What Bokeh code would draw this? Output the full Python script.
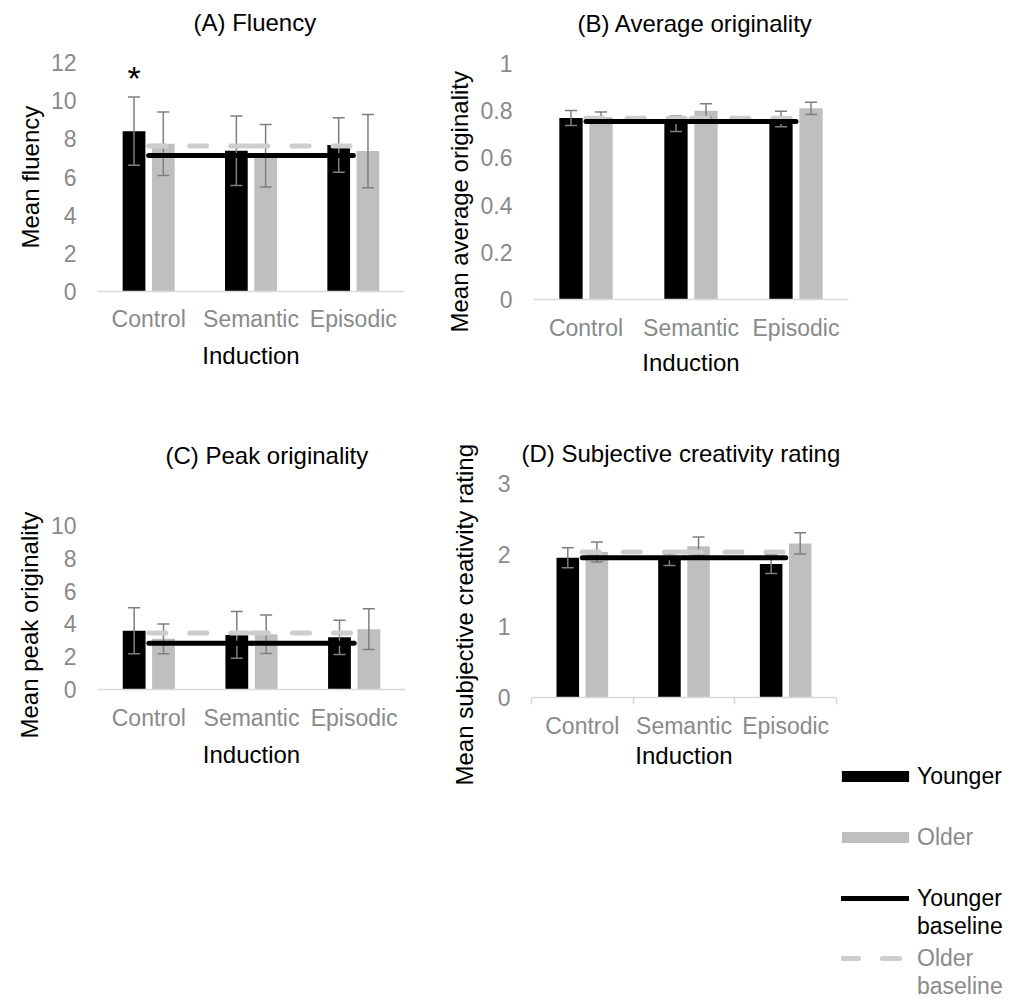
import numpy as np
from bokeh.plotting import figure
from bokeh.models import Range1d, FixedTicker, Title, Legend, LegendItem, NumeralTickFormatter
from bokeh.layouts import row, column
from bokeh.embed import file_html
from bokeh.resources import INLINE
from bokeh.core.properties import value

# ---------------- data ----------------
categories = ["Control", "Semantic", "Episodic"]

fluency_younger = [8.40, 7.37, 7.68]
fluency_younger_err = [1.79, 1.82, 1.43]
fluency_older = [7.74, 7.11, 7.36]
fluency_older_err = [1.66, 1.64, 1.92]
fluency_base_younger = 7.13
fluency_base_older = 7.62
fluency_sig = ["*", "", ""]
fluency_ticks = [0, 2, 4, 6, 8, 10, 12]

avgorig_younger = [0.769, 0.745, 0.765]
avgorig_younger_err = [0.032, 0.033, 0.033]
avgorig_older = [0.772, 0.800, 0.810]
avgorig_older_err = [0.022, 0.029, 0.026]
avgorig_base_younger = 0.754
avgorig_base_older = 0.768
avgorig_ticks = [0, 0.2, 0.4, 0.6, 0.8, 1.0]

peak_younger = [3.58, 3.33, 3.18]
peak_younger_err = [1.40, 1.43, 1.04]
peak_older = [3.09, 3.37, 3.68]
peak_older_err = [0.91, 1.18, 1.24]
peak_base_younger = 2.82
peak_base_older = 3.45
peak_ticks = [0, 2, 4, 6, 8, 10]

subj_younger = [1.96, 1.93, 1.87]
subj_younger_err = [0.14, 0.08, 0.13]
subj_older = [2.04, 2.12, 2.16]
subj_older_err = [0.14, 0.13, 0.15]
subj_base_younger = 1.96
subj_base_older = 2.04
subj_ticks = [0, 1, 2, 3]

legend_labels = ["Younger", "Older", "Younger", "baseline", "Older", "baseline"]

# ---------------- styles ----------------
FONT = "Liberation Sans"
FS = "23px"
FS_T = "24px"
TICK_GRAY = "#8a8a8a"
BAR_GRAY = "#bfbfbf"
DASH_GRAY = "#cdcdcd"
ERR_GRAY = "#7f7f7f"
AXIS_GRAY = "#d9d9d9"
BAR_W = 0.222
DODGE = 0.143


def draw_series(p, xc, younger, yerr, older, oerr, base_y, base_o):
    n = len(xc)
    xy = xc - DODGE
    xo = xc + DODGE
    younger = np.array(younger)
    older = np.array(older)
    yerr = np.array(yerr)
    oerr = np.array(oerr)
    p.vbar(x=xy, top=younger, width=BAR_W, fill_color="black", line_color=None)
    p.vbar(x=xo, top=older, width=BAR_W, fill_color=BAR_GRAY, line_color=None)
    ex = np.concatenate([xy, xo])
    lo = np.concatenate([younger - yerr, older - oerr])
    hi = np.concatenate([younger + yerr, older + oerr])
    p.segment(x0=ex, x1=ex, y0=lo, y1=hi, line_color=ERR_GRAY, line_width=1.5)
    p.scatter(x=np.concatenate([ex, ex]), y=np.concatenate([lo, hi]), marker="dash",
              size=12, line_color=ERR_GRAY, line_width=1.5)
    p.segment(x0=xc[:-1], x1=xc[1:], y0=[base_o] * (n - 1), y1=[base_o] * (n - 1),
              line_color=DASH_GRAY, line_width=5, line_dash="17 24", line_cap="round")
    p.segment(x0=xc[:-1], x1=xc[1:], y0=[base_y] * (n - 1), y1=[base_y] * (n - 1),
              line_color="black", line_width=5, line_cap="round")
    return xy


def make_panel(title, ylabel, yticks, younger, yerr, older, oerr, base_y, base_o,
               w, h, left, right, top, bottom,
               t_off, t_stand, yl_off, yl_stand, xl_stand, xal_stand,
               fmt=None, cat_ticks=False, sig=None):
    n = len(categories)
    xc = np.arange(n) + 0.5
    p = figure(width=w, height=h, x_range=Range1d(0, n), y_range=Range1d(yticks[0], yticks[-1]),
               output_backend="svg", toolbar_location=None,
               min_border_left=left, min_border_right=right,
               min_border_top=top, min_border_bottom=bottom)
    p.frame_align = False
    p.title = Title(text=title, align="left", offset=t_off, standoff=t_stand,
                    text_font=FONT, text_font_size=FS_T, text_font_style="normal",
                    text_color="black")
    p.outline_line_color = None
    p.xgrid.visible = False
    p.ygrid.visible = False

    xa = p.xaxis[0]
    xa.ticker = FixedTicker(ticks=list(xc), minor_ticks=list(range(n + 1)) if cat_ticks else [])
    xa.major_label_overrides = {float(x): c for x, c in zip(xc, categories)}
    xa.axis_line_color = AXIS_GRAY
    xa.axis_line_width = 1.5
    xa.major_tick_line_color = None
    xa.major_tick_out = 0
    xa.major_tick_in = 0
    xa.minor_tick_line_color = AXIS_GRAY if cat_ticks else None
    xa.minor_tick_out = 7
    xa.minor_tick_in = 0
    xa.minor_tick_line_width = 1.5
    xa.major_label_text_font = FONT
    xa.major_label_text_font_size = FS
    xa.major_label_text_color = TICK_GRAY
    xa.major_label_standoff = xl_stand
    xa.axis_label = "Induction"
    xa.axis_label_text_font = FONT
    xa.axis_label_text_font_size = FS_T
    xa.axis_label_text_font_style = "normal"
    xa.axis_label_text_color = "black"
    xa.axis_label_standoff = xal_stand

    ya = p.yaxis[0]
    ya.ticker = FixedTicker(ticks=yticks)
    if fmt is not None:
        ya.formatter = fmt
    ya.axis_line_color = None
    ya.major_tick_line_color = None
    ya.major_tick_out = 0
    ya.major_tick_in = 0
    ya.minor_tick_line_color = None
    ya.major_label_text_font = FONT
    ya.major_label_text_font_size = FS
    ya.major_label_text_color = TICK_GRAY
    ya.major_label_standoff = 21

    p.add_layout(Title(text=ylabel, align="left", offset=yl_off, standoff=yl_stand,
                       text_font=FONT, text_font_size=FS_T, text_font_style="normal",
                       text_color="black"), "left")

    xy = draw_series(p, xc, younger, yerr, older, oerr, base_y, base_o)

    if sig is not None:
        top_err = np.array(younger) + np.array(yerr)
        p.text(x=xy, y=top_err + 1.0, text=sig, text_font=value(FONT),
               text_font_size="34px", text_align="center", text_baseline="alphabetic",
               text_color="black")
    return p


pA = make_panel("(A) Fluency\n", "Mean fluency", fluency_ticks,
                fluency_younger, fluency_younger_err, fluency_older, fluency_older_err,
                fluency_base_younger, fluency_base_older,
                430, 395, 97, 26, 62, 104,
                96, 0, 43, 8, 14, 7, sig=fluency_sig)

pB = make_panel("(B) Average originality\n", "Mean average originality", avgorig_ticks,
                avgorig_younger, avgorig_younger_err, avgorig_older, avgorig_older_err,
                avgorig_base_younger, avgorig_base_older,
                590, 395, 103, 172, 63, 96,
                44, 0, -33, 10, 15, 5, fmt=NumeralTickFormatter(format="0.[0]"))

pC = make_panel("(C) Peak originality\n", "Mean peak originality", peak_ticks,
                peak_younger, peak_younger_err, peak_older, peak_older_err,
                peak_base_younger, peak_base_older,
                430, 605, 97, 25, 130, 311,
                68, 60, -49, 10, 15, 7)

pD = make_panel("(D) Subjective creativity rating", "Mean subjective creativity rating", subj_ticks,
                subj_younger, subj_younger_err, subj_older, subj_older_err,
                subj_base_younger, subj_base_older,
                410, 605, 101, 4, 88, 303,
                -10, 34, -88, 34, 8, 0, cat_ticks=True)

# ---------------- legend panel ----------------
LW, LH = 180, 605
pL = figure(width=LW, height=LH, x_range=Range1d(0, 1), y_range=Range1d(0, 1),
            output_backend="svg", toolbar_location=None,
            min_border_left=0, min_border_right=0, min_border_top=0, min_border_bottom=0,
            x_axis_location=None, y_axis_location=None)
pL.frame_align = False
pL.outline_line_color = None
pL.xgrid.visible = False
pL.ygrid.visible = False
d_y = pL.vbar(x=[np.nan], top=[np.nan], width=BAR_W, fill_color="black", line_color=None)
d_o = pL.vbar(x=[np.nan], top=[np.nan], width=BAR_W, fill_color=BAR_GRAY, line_color=None)
d_by = pL.segment(x0=[np.nan], x1=[np.nan], y0=[np.nan], y1=[np.nan],
                  line_color="black", line_width=5, line_cap="round")
d_bo = pL.segment(x0=[np.nan], x1=[np.nan], y0=[np.nan], y1=[np.nan],
                  line_color=DASH_GRAY, line_width=5, line_dash="17 24", line_cap="round")
d_none = pL.segment(x0=[np.nan], x1=[np.nan], y0=[np.nan], y1=[np.nan], line_color=None)

# (renderer, text colour, x of item, y from bottom, glyph width, glyph height, label standoff)
leg_specs = [
    (d_y, "black", -7, 210, 84, 14, 0),
    (d_o, TICK_GRAY, -7, 149, 84, 14, 0),
    (d_by, "black", 1, 88, 68, 14, 8),
    (d_none, "black", 1, 60, 68, 14, 8),
    (d_bo, TICK_GRAY, 1, 28, 68, 14, 8),
    (d_none, TICK_GRAY, 1, 0, 68, 14, 8),
]
for lab, (rend, col, vx, vy, gw, gh, ls) in zip(legend_labels, leg_specs):
    lg = Legend(items=[LegendItem(label=lab, renderers=[rend])],
                location=(vx, vy), glyph_width=gw, glyph_height=gh, label_height=28,
                label_standoff=ls, label_text_font=FONT, label_text_font_size=FS,
                label_text_color=col, padding=0, margin=0, spacing=0,
                border_line_color=None, background_fill_alpha=0)
    pL.add_layout(lg, "center")

layout = column(row(pA, pB), row(pC, pD, pL))

open("out.html", "w").write(file_html(layout, INLINE))
